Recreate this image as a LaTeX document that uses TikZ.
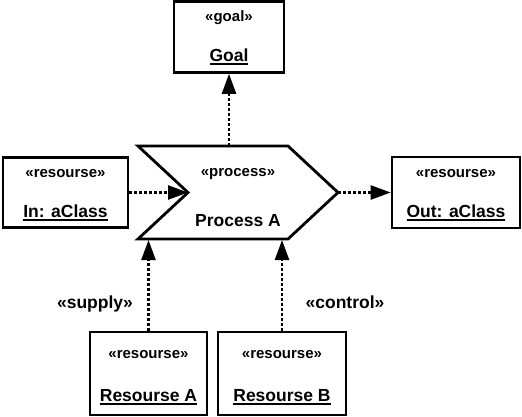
\documentclass[tikz,border=0pt]{standalone}
\usepackage{fontspec}
\setmainfont{Liberation Sans}
\usetikzlibrary{arrows.meta,calc}
\newcommand\myul[1]{\setbox0\hbox{#1}\rlap{\rule[-3pt]{\wd0}{1.8pt}}\box0}
\begin{document}
\begin{tikzpicture}[x=1pt,y=-1pt,
  box/.style={draw,line width=2.6pt,inner sep=0pt},
  ster/.style={font=\fontsize{15}{17}\selectfont\bfseries,anchor=base,inner sep=0pt},
  nm/.style={font=\fontsize{17.5}{20}\selectfont\bfseries,anchor=base,inner sep=0pt},
  lbl/.style={font=\fontsize{17.5}{20}\selectfont\bfseries,anchor=base,inner sep=0pt},
  dep/.style={line width=2.4pt,dash pattern=on 3pt off 2pt,-{Triangle[length=20pt,width=14pt]}}]
\useasboundingbox (0,0) rectangle (522,417);
% boxes
\node[box,minimum width=110pt,minimum height=71pt] (goal) at (229,37) {};
\node[box,minimum width=125pt,minimum height=70pt] (in) at (65.5,192.5) {};
\node[box,minimum width=128pt,minimum height=71pt] (out) at (456,192.5) {};
\node[box,minimum width=117pt,minimum height=83pt] (ra) at (148.5,373.5) {};
\node[box,minimum width=128pt,minimum height=83pt] (rb) at (282,373.5) {};
% texts in boxes
\node[ster] (goal-s) at ($(goal.center)+(0,-15)$) {«goal»};
\node[nm] (goal-n) at ($(goal.center)+(0,25)$) {\myul{Goal}};
\node[ster] (in-s) at ($(in.center)+(0,-15)$) {«resourse»};
\node[nm] (in-n) at ($(in.center)+(0,25)$) {\myul{In: aClass}};
\node[ster] (out-s) at ($(out.center)+(0,-15)$) {«resourse»};
\node[nm] (out-n) at ($(out.center)+(0,25)$) {\myul{Out: aClass}};
\node[ster] (ra-s) at ($(ra.center)+(0,-15)$) {«resourse»};
\node[nm] (ra-n) at ($(ra.center)+(0,28)$) {\myul{Resourse A}};
\node[ster] (rb-s) at ($(rb.center)+(0,-15)$) {«resourse»};
\node[nm] (rb-n) at ($(rb.center)+(0,28)$) {\myul{Resourse B}};
% process shape
\draw[line width=2.8pt,line join=miter] (138,146) -- (288,146) -- (338,192.5) -- (288,239) -- (138,239) -- (188,192.5) -- cycle;
\coordinate (ptop) at (229,146);
\coordinate (pnotch) at (188,192.5);
\coordinate (ptip) at (338,192.5);
\coordinate (pba) at (148.5,240);
\coordinate (pbb) at (282,240);
\node[ster] (proc-s) at (238,176) {«process»};
\node[nm] (proc-n) at (238,226) {Process A};
% connectors
\draw[dep] (ptop) -- (goal.south);
\draw[dep] (in.east) -- (pnotch);
\draw[dep] (ptip) -- (out.west);
\draw[dep] (ra.north) -- (pba);
\draw[dep] (rb.north) -- (pbb);
\node[lbl] (sup) at (95,308) {«supply»};
\node[lbl] (ctl) at (345,308) {«control»};
\end{tikzpicture}
\end{document}
